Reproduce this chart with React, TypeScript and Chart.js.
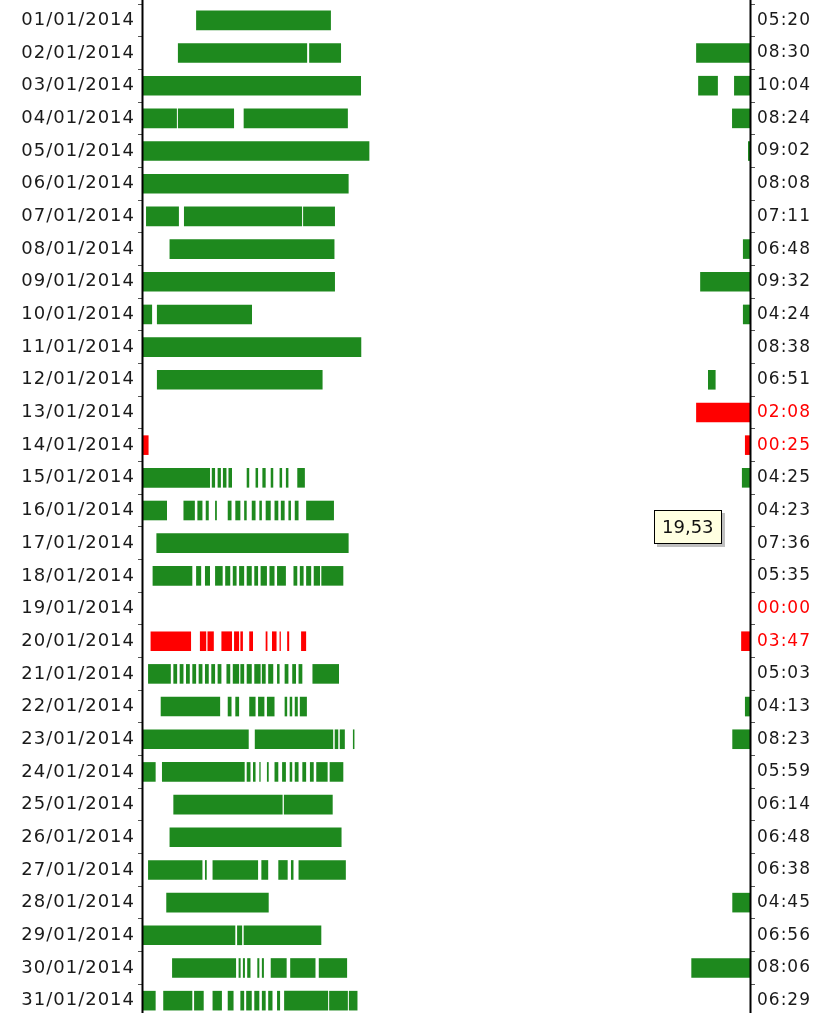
import React, { useEffect, useRef } from 'react';
import { Chart, registerables } from 'chart.js';

Chart.register(...registerables);

// Days of the month (left axis)
const dates = [
  '01/01/2014', '02/01/2014', '03/01/2014', '04/01/2014', '05/01/2014', '06/01/2014',
  '07/01/2014', '08/01/2014', '09/01/2014', '10/01/2014', '11/01/2014', '12/01/2014',
  '13/01/2014', '14/01/2014', '15/01/2014', '16/01/2014', '17/01/2014', '18/01/2014',
  '19/01/2014', '20/01/2014', '21/01/2014', '22/01/2014', '23/01/2014', '24/01/2014',
  '25/01/2014', '26/01/2014', '27/01/2014', '28/01/2014', '29/01/2014', '30/01/2014',
  '31/01/2014',
];

// Total sleep per day (right axis)
const durations = [
  '05:20', '08:30', '10:04', '08:24', '09:02', '08:08', '07:11', '06:48', '09:32', '04:24',
  '08:38', '06:51', '02:08', '00:25', '04:25', '04:23', '07:36', '05:35', '00:00', '03:47',
  '05:03', '04:13', '08:23', '05:59', '06:14', '06:48', '06:38', '04:45', '06:56', '08:06',
  '06:29',
];

// Sleep intervals per day, in hours of the day [start, end]
const sleepSegments: number[][][] = [
  [[2.1, 7.43]],
  [[1.38, 6.49], [6.57, 7.83], [21.87, 24]],
  [[0, 8.62], [21.95, 22.73], [23.37, 24]],
  [[0, 1.34], [1.38, 3.6], [3.98, 8.1], [23.29, 24]],
  [[0, 8.95], [23.92, 24]],
  [[0, 8.13]],
  [[0.12, 1.42], [1.62, 6.29], [6.33, 7.59]],
  [[1.05, 7.57], [23.72, 24]],
  [[0, 7.59], [22.03, 24]],
  [[0, 0.36], [0.55, 4.31], [23.72, 24]],
  [[0, 8.63]],
  [[0.55, 7.1], [22.34, 22.64]],
  [[21.87, 24]],
  [[0, 0.22], [23.8, 24]],
  [[0, 2.65], [2.72, 2.85], [2.95, 3.08], [3.16, 3.3], [3.38, 3.52], [4.1, 4.2], [4.45, 4.55],
   [4.72, 4.85], [5.05, 5.15], [5.4, 5.5], [5.65, 5.75], [6.1, 6.4], [23.68, 24]],
  [[0, 0.95], [1.6, 2.05], [2.15, 2.35], [2.48, 2.6], [2.85, 2.92], [3.35, 3.5], [3.65, 3.85],
   [4.0, 4.1], [4.3, 4.45], [4.6, 4.7], [4.85, 5.05], [5.2, 5.35], [5.45, 5.6], [5.75, 5.85],
   [6.0, 6.15], [6.45, 7.55]],
  [[0.53, 8.13]],
  [[0.38, 1.95], [2.1, 2.3], [2.45, 2.65], [2.85, 3.15], [3.25, 3.45], [3.55, 3.7], [3.8, 4.0],
   [4.1, 4.3], [4.4, 4.55], [4.65, 4.9], [5.0, 5.2], [5.3, 5.65], [5.95, 6.1], [6.2, 6.35],
   [6.45, 6.65], [6.75, 7.0], [7.05, 7.92]],
  [],
  [[0.3, 1.9], [2.25, 2.5], [2.55, 2.8], [3.1, 3.52], [3.6, 3.8], [3.85, 3.95], [4.2, 4.35],
   [4.85, 4.92], [5.1, 5.28], [5.4, 5.45], [5.7, 5.78], [6.25, 6.45], [23.65, 24]],
  [[0.2, 1.1], [1.2, 1.35], [1.45, 1.6], [1.7, 1.85], [1.95, 2.1], [2.2, 2.35], [2.45, 2.6],
   [2.7, 2.85], [2.95, 3.1], [3.3, 3.45], [3.55, 3.8], [3.85, 4.0], [4.1, 4.3], [4.4, 4.65],
   [4.7, 4.85], [4.95, 5.15], [5.3, 5.4], [5.6, 5.75], [5.9, 6.05], [6.15, 6.3], [6.7, 7.75]],
  [[0.7, 3.05], [3.35, 3.5], [3.65, 3.8], [4.2, 4.45], [4.55, 4.8], [4.9, 5.2], [5.6, 5.7],
   [5.8, 5.9], [6.0, 6.12], [6.2, 6.48], [23.8, 24]],
  [[0, 4.18], [4.42, 7.52], [7.58, 7.72], [7.78, 7.98], [8.3, 8.36], [23.3, 24]],
  [[0, 0.5], [0.75, 4.02], [4.1, 4.25], [4.35, 4.45], [4.6, 4.65], [4.9, 4.97], [5.2, 5.35],
   [5.5, 5.65], [5.8, 5.9], [6.0, 6.15], [6.3, 6.45], [6.6, 6.75], [6.85, 7.3], [7.38, 7.92]],
  [[1.2, 5.52], [5.57, 7.5]],
  [[1.05, 7.85]],
  [[0.2, 2.35], [2.45, 2.52], [2.75, 4.55], [4.68, 4.95], [5.35, 5.72], [5.85, 5.95], [6.15, 8.02]],
  [[0.92, 4.97], [23.3, 24]],
  [[0, 3.65], [3.72, 3.92], [3.98, 7.05]],
  [[1.15, 3.68], [3.78, 3.86], [3.95, 4.03], [4.12, 4.25], [4.52, 4.6], [4.7, 4.78], [5.05, 5.68],
   [5.82, 6.82], [6.95, 8.07], [21.68, 24]],
  [[0, 0.5], [0.8, 1.95], [2.02, 2.4], [2.75, 3.12], [3.35, 3.58], [3.85, 4.0], [4.08, 4.3],
   [4.4, 4.6], [4.7, 4.85], [4.95, 5.12], [5.3, 5.42], [5.58, 7.32], [7.36, 8.1], [8.14, 8.48]],
];

// Hover readout shown on the chart
const hoverText = '19,53';
const hoverHour = 20.2;
const hoverRow = 15.5;

const GREEN = '#1e891e';
const RED = '#ff0000';
const FONT = 'DejaVu Sans';

const toMinutes = (s: string) => {
  const [h, m] = s.split(':').map(Number);
  return h * 60 + m;
};
const isShort = (i: number) => toMinutes(durations[i]) < 240;

export default function App() {
  const ref = useRef<HTMLCanvasElement | null>(null);

  useEffect(() => {
    if (!ref.current) return;
    const maxSeg = Math.max(...sleepSegments.map((s) => s.length));
    const datasets = Array.from({ length: maxSeg }, (_, k) => ({
      data: sleepSegments.map((s) => (s[k] ? s[k] : null)) as any,
      backgroundColor: (c: any) => (isShort(c.dataIndex) ? RED : GREEN),
      grouped: false,
      barPercentage: 0.6,
      categoryPercentage: 1,
      borderWidth: 0,
      borderSkipped: false,
    }));

    const spacing = {
      id: 'spacing',
      beforeLayout(chart: any) {
        chart.ctx.letterSpacing = '1px';
      },
      beforeDraw(chart: any) {
        chart.ctx.letterSpacing = '1px';
      },
    };

    const frame = {
      id: 'frame',
      afterDraw(chart: any) {
        const { ctx, chartArea, canvas } = chart;
        ctx.save();
        ctx.strokeStyle = '#000';
        ctx.lineWidth = 2;
        ctx.beginPath();
        ctx.moveTo(chartArea.left - 0.5, 0);
        ctx.lineTo(chartArea.left - 0.5, canvas.height);
        ctx.moveTo(chartArea.right + 0.5, 0);
        ctx.lineTo(chartArea.right + 0.5, canvas.height);
        ctx.stroke();

        // hover readout box
        const x = chart.scales.x.getPixelForValue(hoverHour);
        const yc = chart.scales.y.getPixelForValue(hoverRow);
        ctx.font = `18px "${FONT}"`;
        ctx.letterSpacing = '0px';
        const tw = ctx.measureText(hoverText).width;
        const w = Math.round(tw + 16);
        const h = 34;
        const bx = Math.round(x);
        const by = Math.round(yc - h / 2);
        ctx.fillStyle = 'rgba(0,0,0,0.25)';
        ctx.fillRect(bx + 3, by + 3, w, h);
        ctx.fillStyle = '#ffffe1';
        ctx.fillRect(bx, by, w, h);
        ctx.strokeStyle = '#000';
        ctx.lineWidth = 1;
        ctx.strokeRect(bx + 0.5, by + 0.5, w - 1, h - 1);
        ctx.fillStyle = '#111';
        ctx.textBaseline = 'middle';
        ctx.textAlign = 'left';
        ctx.fillText(hoverText, bx + 8, by + h / 2 + 1);
        ctx.restore();
      },
    };

    const noPad = (s: any, width: number) => {
      s.width = width;
      s.paddingTop = 0;
      s.paddingBottom = 0;
    };

    const chart = new Chart(ref.current, {
      type: 'bar',
      data: { labels: dates, datasets: datasets as any },
      options: {
        indexAxis: 'y',
        animation: false,
        responsive: false,
        devicePixelRatio: 1,
        layout: { padding: { top: 4, bottom: 1, left: 0, right: 0 } },
        plugins: { legend: { display: false }, tooltip: { enabled: false } },
        scales: {
          x: { type: 'linear', min: 0, max: 24, display: false },
          y: {
            type: 'category',
            position: 'left',
            offset: true,
            border: { display: false },
            grid: { drawOnChartArea: false, drawTicks: true, tickLength: 5, color: '#555' },
            ticks: {
              autoSkip: false,
              padding: 3,
              color: '#1a1a1a',
              font: { family: FONT, size: 18 },
            },
            afterFit: (s: any) => noPad(s, 143),
          },
          y2: {
            type: 'category',
            position: 'right',
            labels: durations,
            offset: true,
            border: { display: false },
            grid: { drawOnChartArea: false, drawTicks: true, tickLength: 5, color: '#555' },
            ticks: {
              autoSkip: false,
              padding: 2,
              color: (c: any) => (isShort(c.index) ? RED : '#1a1a1a'),
              font: { family: FONT, size: 17 },
            },
            afterFit: (s: any) => noPad(s, 75),
          },
        },
      },
      plugins: [spacing, frame],
    });
    return () => chart.destroy();
  }, []);

  return (
    <div
      style={{
        position: 'fixed',
        left: 0,
        top: 0,
        width: 825,
        height: 1013,
        overflow: 'hidden',
        background: '#fff',
      }}
    >
      <canvas ref={ref} width={825} height={1018} style={{ display: 'block' }} />
    </div>
  );
}
